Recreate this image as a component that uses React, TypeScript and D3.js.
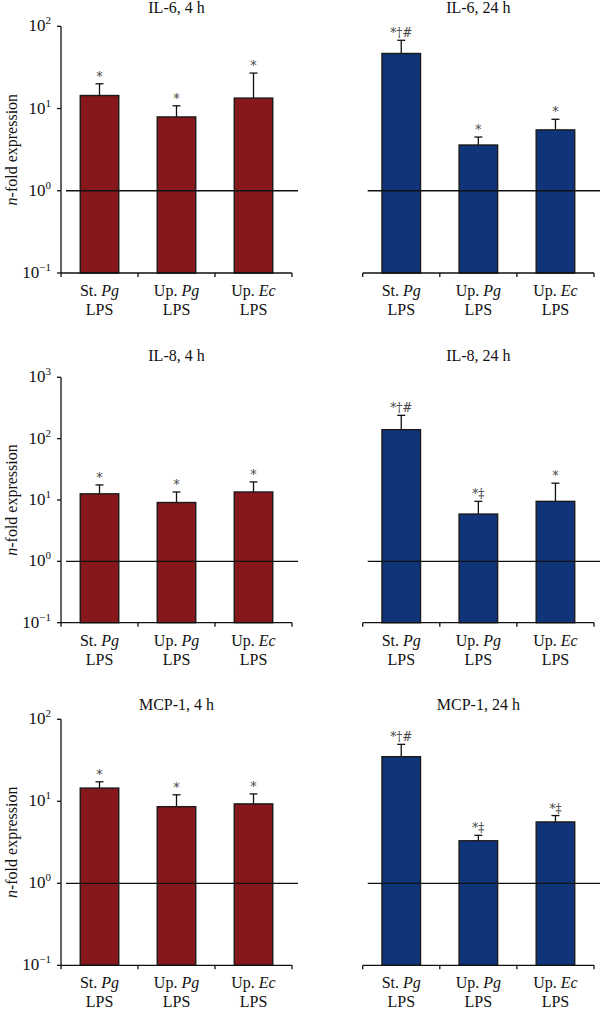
import React from "react";
import * as d3 from "d3";

const labelPrefix = ["St.", "Up.", "Up."];
const labelSpecies = ["Pg", "Pg", "Ec"];
const categories = ["St. Pg LPS", "Up. Pg LPS", "Up. Ec LPS"];

const il6_4h = [14.4, 7.9, 13.4];
const il6_4h_upper = [20, 10.8, 27];
const il6_4h_ann = ["*", "*", "*"];

const il6_24h = [46.7, 3.6, 5.5];
const il6_24h_upper = [67.6, 4.5, 7.4];
const il6_24h_ann = ["*†#", "*", "*"];

const il8_4h = [12.6, 9.1, 13.5];
const il8_4h_upper = [17.6, 13.5, 19.7];
const il8_4h_ann = ["*", "*", "*"];

const il8_24h = [140, 5.9, 9.5];
const il8_24h_upper = [240, 9.5, 18.8];
const il8_24h_ann = ["*†#", "*‡", "*"];

const mcp1_4h = [14.5, 8.6, 9.3];
const mcp1_4h_upper = [17.3, 12.0, 12.3];
const mcp1_4h_ann = ["*", "*", "*"];

const mcp1_24h = [35, 3.3, 5.6];
const mcp1_24h_upper = [49.5, 3.85, 6.7];
const mcp1_24h_ann = ["*†#", "*‡", "*‡"];

const decades3 = [0.1, 1, 10, 100];
const decades4 = [0.1, 1, 10, 100, 1000];

const RED = "#86171a";
const BLUE = "#10347a";
const FONT = "'Liberation Serif', 'Times New Roman', serif";
const ANN_FONT = "'DejaVu Serif', serif";

type PanelProps = {
  title: string;
  values: number[];
  upper: number[];
  ann: string[];
  ticks: number[];
  color: string;
  x0: number;
  x1: number;
  yTop: number;
  yBottom: number;
  showY: boolean;
  titleY: number;
};

function Panel(p: PanelProps) {
  const x = d3
    .scaleBand<string>()
    .domain(categories)
    .range([p.x0, p.x1])
    .paddingInner(0.5)
    .paddingOuter(0.25);
  const y = d3
    .scaleLog()
    .domain([p.ticks[0], p.ticks[p.ticks.length - 1]])
    .range([p.yBottom, p.yTop]);
  const step = x.step();
  const bw = x.bandwidth();
  const boundaries = d3.range(categories.length + 1).map((i) => p.x0 + i * step);
  const base = y(p.ticks[0]);
  const one = y(1);
  return (
    <g>
      <text
        x={(p.x0 + p.x1) / 2}
        y={p.titleY}
        textAnchor="middle"
        fontSize={16}
        fontFamily={FONT}
        fill="#111"
      >
        {p.title}
      </text>
      {categories.map((c, i) => {
        const bx = x(c)!;
        const top = y(p.values[i]);
        const et = y(p.upper[i]);
        const cx = bx + bw / 2;
        return (
          <g key={c}>
            <rect
              x={bx}
              y={top}
              width={bw}
              height={base - top}
              fill={p.color}
              stroke="#1a1a1a"
              strokeWidth={1.4}
            />
            <line x1={cx} x2={cx} y1={top} y2={et} stroke="#111" strokeWidth={1.3} />
            <line x1={cx - 4} x2={cx + 4} y1={et} y2={et} stroke="#111" strokeWidth={1.3} />
            <text
              x={cx}
              y={et - 3}
              textAnchor="middle"
              fontSize={12}
              fontFamily={ANN_FONT}
              fill="#444"
            >
              {p.ann[i]}
            </text>
            <text
              x={cx}
              y={p.yBottom + 23}
              textAnchor="middle"
              fontSize={16}
              fontFamily={FONT}
              fill="#111"
            >
              {labelPrefix[i] + " "}
              <tspan fontStyle="italic">{labelSpecies[i]}</tspan>
            </text>
            <text
              x={cx}
              y={p.yBottom + 42}
              textAnchor="middle"
              fontSize={16}
              fontFamily={FONT}
              fill="#111"
            >
              LPS
            </text>
          </g>
        );
      })}
      <line
        x1={p.x0 + 5}
        x2={p.x1 + 6}
        y1={one}
        y2={one}
        stroke="#111"
        strokeWidth={1.3}
      />
      <line x1={p.x0} x2={p.x1} y1={p.yBottom} y2={p.yBottom} stroke="#111" strokeWidth={1.3} />
      {boundaries.map((bx, i) => (
        <line key={i} x1={bx} x2={bx} y1={p.yBottom} y2={p.yBottom + 4} stroke="#111" strokeWidth={1.3} />
      ))}
      {p.showY && (
        <g>
          <line x1={p.x0} x2={p.x0} y1={p.yTop} y2={p.yBottom} stroke="#111" strokeWidth={1.3} />
          {p.ticks.map((t) => {
            const ty = y(t);
            const e = Math.round(Math.log10(t));
            const sup = e < 0 ? "\u2212" + Math.abs(e) : String(e);
            return (
              <g key={t}>
                <line x1={p.x0 - 4} x2={p.x0} y1={ty} y2={ty} stroke="#111" strokeWidth={1.3} />
                <text
                  x={p.x0 - 10}
                  y={ty + 5}
                  textAnchor="end"
                  fontSize={17}
                  fontFamily={FONT}
                  fill="#111"
                >
                  10
                  <tspan dy={-7} fontSize={11}>{sup}</tspan>
                </text>
              </g>
            );
          })}
          <text
            transform={`translate(17,${(p.yTop + p.yBottom) / 2}) rotate(-90)`}
            textAnchor="middle"
            fontSize={16}
            fontFamily={FONT}
            fill="#111"
          >
            <tspan fontStyle="italic">n</tspan>-fold expression
          </text>
        </g>
      )}
    </g>
  );
}

const L0 = 61;
const L1 = 292;
const R0 = 362.7;
const R1 = 594;

export default function App() {
  return (
    <svg
      width={600}
      height={1009}
      style={{ position: "absolute", left: 0, top: 0, background: "#fff" }}
    >
      <rect width={600} height={1009} fill="#fff" />
      <Panel title="IL-6, 4 h" values={il6_4h} upper={il6_4h_upper} ann={il6_4h_ann} ticks={decades3}
        color={RED} x0={L0} x1={L1} yTop={26.3} yBottom={273} showY titleY={13} />
      <Panel title="IL-6, 24 h" values={il6_24h} upper={il6_24h_upper} ann={il6_24h_ann} ticks={decades3}
        color={BLUE} x0={R0} x1={R1} yTop={26.3} yBottom={273} showY={false} titleY={13} />
      <Panel title="IL-8, 4 h" values={il8_4h} upper={il8_4h_upper} ann={il8_4h_ann} ticks={decades4}
        color={RED} x0={L0} x1={L1} yTop={377.3} yBottom={622.7} showY titleY={361} />
      <Panel title="IL-8, 24 h" values={il8_24h} upper={il8_24h_upper} ann={il8_24h_ann} ticks={decades4}
        color={BLUE} x0={R0} x1={R1} yTop={377.3} yBottom={622.7} showY={false} titleY={361} />
      <Panel title="MCP-1, 4 h" values={mcp1_4h} upper={mcp1_4h_upper} ann={mcp1_4h_ann} ticks={decades3}
        color={RED} x0={L0} x1={L1} yTop={719.3} yBottom={965.3} showY titleY={710} />
      <Panel title="MCP-1, 24 h" values={mcp1_24h} upper={mcp1_24h_upper} ann={mcp1_24h_ann} ticks={decades3}
        color={BLUE} x0={R0} x1={R1} yTop={719.3} yBottom={965.3} showY={false} titleY={710} />
    </svg>
  );
}
